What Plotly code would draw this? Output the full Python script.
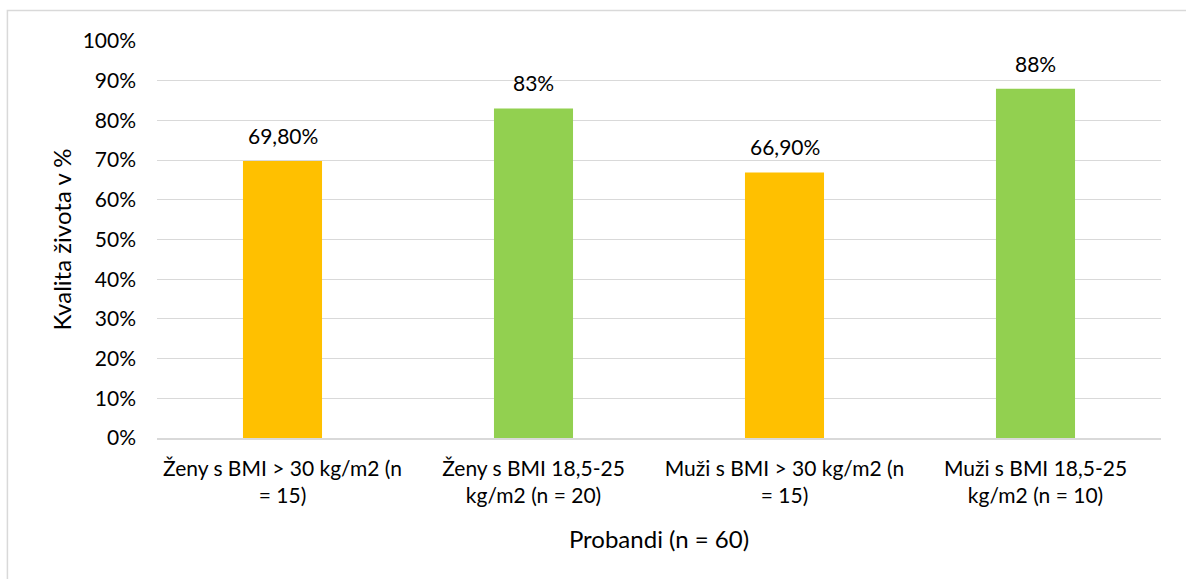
import plotly.graph_objects as go

categories = [
    "Ženy s BMI > 30 kg/m2 (n<br>= 15)",
    "Ženy s BMI 18,5-25<br>kg/m2 (n = 20)",
    "Muži s BMI > 30 kg/m2 (n<br>= 15)",
    "Muži s BMI 18,5-25<br>kg/m2 (n = 10)",
]
values = [0.698, 0.83, 0.669, 0.88]
labels = ["69,80%", "83%", "66,90%", "88%"]
colors = ["#FFC000", "#92D050", "#FFC000", "#92D050"]
y_ticks = [i / 10 for i in range(11)]
y_tick_text = [f"{i * 10}%" for i in range(11)]

FONT = "Lato"
fs = 21
fs_title = 24

fig = go.Figure()
fig.add_trace(go.Bar(x=categories, y=values, marker_color=colors, marker_line_width=0,
                     hoverinfo="skip"))

for c, v, t in zip(categories, values, labels):
    fig.add_annotation(x=c, y=v, text=t, showarrow=False, yanchor="bottom", yshift=11,
                       font=dict(family=FONT, size=fs, color="#000000"))

fig.add_shape(type="rect", xref="paper", yref="paper", x0=-0.149, x1=1.06, y0=-0.40, y1=1.077,
              line=dict(color="#D9D9D9", width=1.5), fillcolor="rgba(0,0,0,0)", layer="below")

fig.update_layout(
    width=1186, height=579,
    margin=dict(l=157, r=25, t=41, b=141, autoexpand=False),
    paper_bgcolor="white", plot_bgcolor="white",
    bargap=0.685,
    showlegend=False,
    font=dict(family=FONT, size=fs, color="#000000"),
    xaxis=dict(
        title=dict(text="Probandi (n = 60)", standoff=25, font=dict(family=FONT, size=fs_title)),
        showgrid=False, showline=True, linecolor="#D9D9D9", linewidth=1.5,
        ticks="", ticklabelstandoff=11, automargin=False,
        tickfont=dict(family=FONT, size=fs),
    ),
    yaxis=dict(
        title=dict(text="Kvalita života v %", standoff=4, font=dict(family=FONT, size=fs_title)),
        range=[0, 1], tickvals=y_ticks, ticktext=y_tick_text,
        showgrid=True, gridcolor="#D9D9D9", gridwidth=1,
        zeroline=False, showline=False, ticks="", ticklabelstandoff=20,
        automargin=False, tickfont=dict(family=FONT, size=fs),
    ),
)

fig.write_html("out.html")
